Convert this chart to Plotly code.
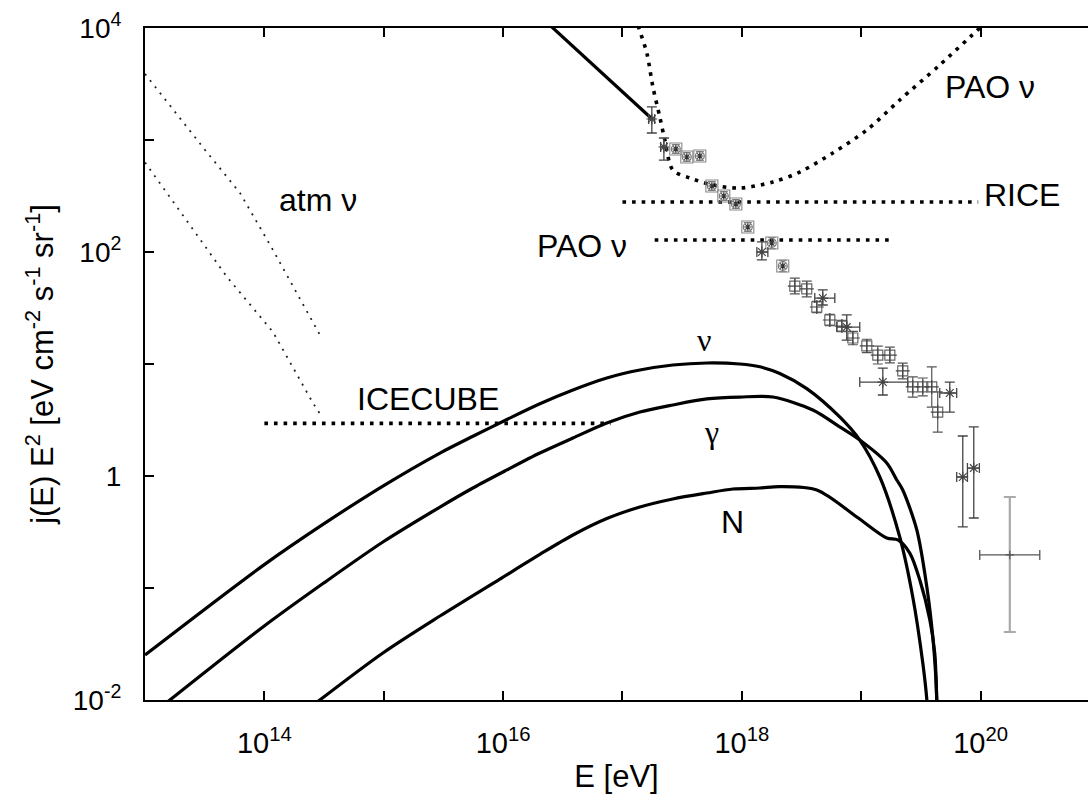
import plotly.graph_objects as go

# ---------------- data (log10 E [eV], log10 E^2 j(E)) ----------------
nu_logE = [13.0, 13.988, 14.494, 14.993, 15.471, 15.747, 16.032, 16.308, 16.585, 16.869, 17.146, 17.422, 17.707, 17.983, 18.151, 18.318, 18.544, 18.82, 18.988, 19.156, 19.323, 19.432, 19.516, 19.55, 19.565]
nu_logJ = [-1.598, -0.80, -0.43, -0.09, 0.205, 0.355, 0.505, 0.645, 0.768, 0.875, 0.946, 0.991, 1.009, 1.0, 0.975, 0.915, 0.78, 0.527, 0.321, -0.009, -0.545, -1.08, -1.67, -2.0, -2.3]

gam_logE = [13.185, 13.988, 14.494, 14.993, 15.471, 15.747, 16.032, 16.308, 16.585, 16.869, 17.146, 17.422, 17.707, 17.983, 18.26, 18.595, 18.82, 18.988, 19.214, 19.298, 19.348, 19.466, 19.55, 19.6, 19.625, 19.633, 19.64]
gam_logJ = [-2.02, -1.348, -0.958, -0.589, -0.277, -0.107, 0.054, 0.205, 0.339, 0.473, 0.571, 0.634, 0.688, 0.705, 0.705, 0.589, 0.438, 0.321, 0.116, -0.036, -0.125, -0.482, -0.991, -1.438, -1.795, -2.0, -2.3]

N_logE = [14.44, 14.993, 15.471, 15.973, 16.308, 16.585, 16.869, 17.146, 17.422, 17.707, 17.925, 18.151, 18.318, 18.628, 18.963, 19.214, 19.307, 19.407, 19.491, 19.575, 19.616, 19.633, 19.64]
N_logJ = [-2.02, -1.58, -1.25, -0.92, -0.70, -0.527, -0.38, -0.277, -0.205, -0.152, -0.116, -0.107, -0.095, -0.125, -0.366, -0.554, -0.571, -0.688, -0.929, -1.286, -1.58, -2.0, -2.3]

cr_logE = [16.3, 17.246]
cr_logJ = [4.115, 3.19]

paolim_logE = [17.107, 17.137, 17.204, 17.255, 17.313, 17.355, 17.422, 17.565, 17.757, 17.983, 18.26, 18.486, 18.762, 19.047, 19.323, 19.658, 19.993, 20.05]
paolim_logJ = [4.10, 4.0, 3.777, 3.473, 3.205, 3.0, 2.732, 2.661, 2.598, 2.571, 2.625, 2.714, 2.884, 3.089, 3.357, 3.67, 4.0, 4.056]

rice_logE = [17.0, 19.98]
rice_logJ = [2.446, 2.446]
paoh_logE = [17.27, 19.24]
paoh_logJ = [2.107, 2.107]
ice_logE = [14.0, 16.9]
ice_logJ = [0.47, 0.47]

atm1_logE = [13.0, 13.503, 13.796, 14.072, 14.466]
atm1_logJ = [3.59, 2.911, 2.527, 2.018, 1.259]
atm2_logE = [13.0, 13.318, 13.687, 14.072, 14.407, 14.482]
atm2_logJ = [2.80, 2.330, 1.777, 1.286, 0.652, 0.527]

# cosmic-ray data: boxed circled stars
g1_logE = [17.447, 17.539, 17.648, 17.749, 17.849, 17.95, 18.05, 18.251, 18.343]
g1_logJ = [2.920, 2.848, 2.857, 2.589, 2.5, 2.429, 2.223, 2.080, 1.875]
g1_dlog = [0.04, 0.04, 0.04, 0.04, 0.04, 0.04, 0.04, 0.05, 0.05]

# boxed crosses
g2_logE = [18.444, 18.544, 18.628, 18.737, 18.838, 18.93, 19.047, 19.139, 19.24, 19.348, 19.432, 19.516, 19.591, 19.641]
g2_logJ = [1.696, 1.670, 1.509, 1.393, 1.339, 1.232, 1.161, 1.080, 1.080, 0.938, 0.795, 0.795, 0.795, 0.571]
g2_dlog = [0.07, 0.07, 0.05, 0.05, 0.05, 0.06, 0.06, 0.08, 0.07, 0.07, 0.09, 0.08, 0.18, 0.18]

# asterisks with x and y error bars
g3_logE = [17.246, 17.347, 18.168, 18.678, 18.879, 19.181, 19.742, 19.851, 19.943]
g3_logJ = [3.1875, 2.9375, 2.0, 1.589, 1.330, 0.839, 0.741, -0.009, 0.071]
g3_hiJ = [3.295, 3.018, 2.09, 1.661, 1.438, 0.964, 0.839, 0.357, 0.438]
g3_loJ = [3.0625, 2.821, 1.93, 1.527, 1.214, 0.723, 0.571, -0.455, -0.375]
g3_loE = [17.22, 17.32, 18.126, 18.611, 18.796, 18.988, 19.658, 19.80, 19.89]
g3_hiE = [17.27, 17.37, 18.218, 18.779, 18.988, 19.39, 19.80, 19.89, 19.99]

# last (lighter) point
g4_logE = [20.245]
g4_logJ = [-0.705]
g4_hiJ = [-0.1875]
g4_loJ = [-1.393]
g4_loE = [19.993]
g4_hiE = [20.496]

x_tick_exp = [13, 14, 15, 16, 17, 18, 19, 20]
y_tick_exp = [-2, -1, 0, 1, 2, 3, 4]


def p(v):
    return [10.0 ** a for a in v]


fig = go.Figure()


def line(xs, ys, color="black", width=3.2, dash="solid", shape="linear", smoothing=0.85):
    ld = dict(color=color, width=width, dash=dash, shape=shape)
    if shape == "spline":
        ld["smoothing"] = smoothing
    fig.add_trace(go.Scatter(x=p(xs), y=p(ys), mode="lines", line=ld,
                             hoverinfo="skip", showlegend=False))


# model curves
line(nu_logE, nu_logJ, shape="spline")
line(gam_logE, gam_logJ, shape="spline")
line(N_logE, N_logJ, shape="spline")
line(cr_logE, cr_logJ)
# limits
line(paolim_logE, paolim_logJ, width=3.6, dash="3.6px,6px", shape="spline")
line(rice_logE, rice_logJ, width=3.6, dash="3.6px,6px")
line(paoh_logE, paoh_logJ, width=3.6, dash="3.6px,6px")
line(ice_logE, ice_logJ, width=3.6, dash="3.6px,6px")
line(atm1_logE, atm1_logJ, color="#222222", width=1.8, dash="2px,6px")
line(atm2_logE, atm2_logJ, color="#222222", width=1.8, dash="2px,6px")


def errs(logv, hi, lo):
    up = [10.0 ** h - 10.0 ** v for h, v in zip(hi, logv)]
    dn = [10.0 ** v - 10.0 ** l for l, v in zip(lo, logv)]
    return up, dn


# group 1
up, dn = errs(g1_logJ, [a + d for a, d in zip(g1_logJ, g1_dlog)], [a - d for a, d in zip(g1_logJ, g1_dlog)])
fig.add_trace(go.Scatter(x=p(g1_logE), y=p(g1_logJ), mode="markers",
                         marker=dict(symbol="square-open", size=12, color="#888888", line=dict(width=1.1)),
                         error_y=dict(type="data", array=up, arrayminus=dn, color="#888888", thickness=1.1, width=4),
                         showlegend=False, hoverinfo="skip"))
fig.add_trace(go.Scatter(x=p(g1_logE), y=p(g1_logJ), mode="markers",
                         marker=dict(symbol="circle-open", size=9, color="#777777", line=dict(width=1.1)),
                         showlegend=False, hoverinfo="skip"))
fig.add_trace(go.Scatter(x=p(g1_logE), y=p(g1_logJ), mode="markers",
                         marker=dict(symbol="asterisk-open", size=6, color="#333333", line=dict(width=1.1)),
                         showlegend=False, hoverinfo="skip"))

# group 2
up, dn = errs(g2_logJ, [a + d for a, d in zip(g2_logJ, g2_dlog)], [a - d for a, d in zip(g2_logJ, g2_dlog)])
fig.add_trace(go.Scatter(x=p(g2_logE), y=p(g2_logJ), mode="markers",
                         marker=dict(symbol="square-open", size=10, color="#666666", line=dict(width=1.2)),
                         error_y=dict(type="data", array=up, arrayminus=dn, color="#555555", thickness=1.2, width=5),
                         showlegend=False, hoverinfo="skip"))
fig.add_trace(go.Scatter(x=p(g2_logE), y=p(g2_logJ), mode="markers",
                         marker=dict(symbol="cross-thin-open", size=10, color="#444444", line=dict(width=1.2)),
                         showlegend=False, hoverinfo="skip"))

# group 3
up, dn = errs(g3_logJ, g3_hiJ, g3_loJ)
xup, xdn = errs(g3_logE, g3_hiE, g3_loE)
fig.add_trace(go.Scatter(x=p(g3_logE), y=p(g3_logJ), mode="markers",
                         marker=dict(symbol="asterisk-open", size=9, color="#444444", line=dict(width=1.2)),
                         error_y=dict(type="data", array=up, arrayminus=dn, color="#444444", thickness=1.3, width=5),
                         error_x=dict(type="data", array=xup, arrayminus=xdn, color="#444444", thickness=1.3, width=5),
                         showlegend=False, hoverinfo="skip"))

# group 4
up, dn = errs(g4_logJ, g4_hiJ, g4_loJ)
xup, xdn = errs(g4_logE, g4_hiE, g4_loE)
fig.add_trace(go.Scatter(x=p(g4_logE), y=p(g4_logJ), mode="markers",
                         marker=dict(symbol="cross-thin-open", size=6, color="#555555", line=dict(width=1.2)),
                         error_y=dict(type="data", array=up, arrayminus=dn, color="#aaaaaa", thickness=2.2, width=6),
                         error_x=dict(type="data", array=xup, arrayminus=xdn, color="#555555", thickness=1.3, width=5),
                         showlegend=False, hoverinfo="skip"))

# labels
sans = "Liberation Sans, Arial, sans-serif"
serif = "Liberation Serif, Times New Roman, serif"
labels = [
    ("atm ν", 14.449, 2.464, sans),
    ("PAO ν", 16.66, 2.054, sans),
    ("RICE", 20.345, 2.509, sans),
    ("PAO ν", 20.077, 3.473, sans),
    ("ICECUBE", 15.37, 0.6875, sans),
    ("ν", 17.682, 1.214, serif),
    ("γ", 17.749, 0.393, serif),
    ("N", 17.925, -0.41, sans),
]
for t, lx, ly, f in labels:
    fig.add_annotation(x=lx, y=ly, text=t, showarrow=False, xref="x", yref="y",
                       font=dict(family=f, size=32, color="black"))

xt_text = [("10<sup>%d</sup>" % e) if e % 2 == 0 else "" for e in x_tick_exp]
yt_map = {4: "10<sup>4</sup>", 2: "10<sup>2</sup>", 0: "1", -2: "10<sup>-2</sup>"}
yt_text = [yt_map.get(e, "") for e in y_tick_exp]

fig.update_layout(
    width=1088, height=798,
    margin=dict(l=145, r=0, t=28, b=98),
    plot_bgcolor="white", paper_bgcolor="white",
    font=dict(family=sans, size=28, color="black"),
    xaxis=dict(type="log", range=[13, 20.9], tickvals=p(x_tick_exp), ticktext=xt_text,
               ticks="inside", ticklen=9, tickwidth=1.5, tickcolor="black",
               showline=True, linecolor="black", linewidth=2, mirror="ticks",
               showgrid=False, zeroline=False, ticklabelstandoff=16,
               tickfont=dict(size=29),
               title=dict(text="E [eV]", standoff=8, font=dict(size=31))),
    yaxis=dict(type="log", range=[-2, 4], tickvals=p(y_tick_exp), ticktext=yt_text,
               ticks="inside", ticklen=9, tickwidth=1.5, tickcolor="black",
               showline=True, linecolor="black", linewidth=2, mirror=False,
               showgrid=False, zeroline=False, ticklabelstandoff=16,
               tickfont=dict(size=28),
               title=dict(text="j(E) E<sup>2</sup> [eV cm<sup>-2</sup> s<sup>-1</sup> sr<sup>-1</sup>]",
                          standoff=10, font=dict(size=31))),
)

fig.write_html("out.html")
